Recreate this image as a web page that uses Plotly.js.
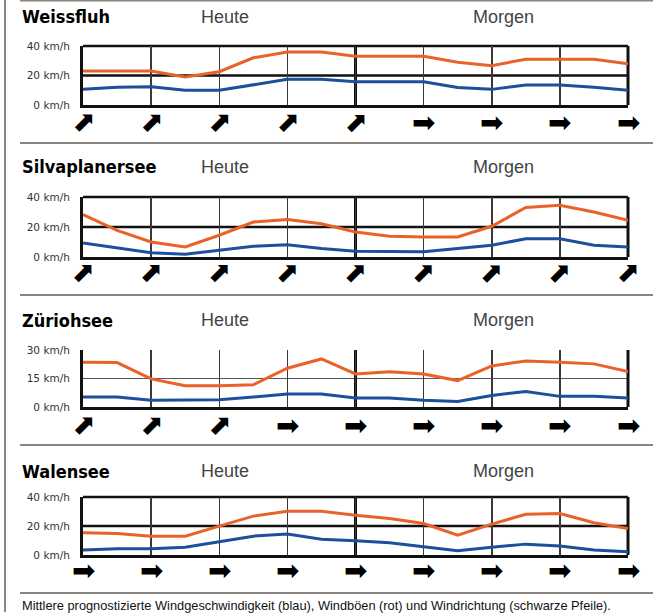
<!DOCTYPE html>
<html><head><meta charset="utf-8">
<script src="https://cdn.plot.ly/plotly-3.0.1.min.js"></script>
<style>html,body{margin:0;padding:0;background:#fff}</style>
</head><body>
<div id="chart" style="width:670px;height:615px"></div>
<script>
// ---- data ----
const stations = ['Weissfluh', 'Silvaplanersee', 'Züriohsee', 'Walensee'];
const dayLabels = ['Heute', 'Morgen'];
const steps = [0,0.5,1,1.5,2,2.5,3,3.5,4,4.5,5,5.5,6,6.5,7,7.5,8];
const arrowSteps = [0,1,2,3,4,5,6,7,8];

const weissfluhGust  = [23,23,23,19,22.6,32,36,36,33,33,33,29,26.7,31,31,31,28];
const weissfluhWind  = [10.6,12,12.4,10,10,13.5,17.4,17.4,15.8,15.8,15.8,11.8,10.6,13.5,13.5,12,10];
const silvaGust      = [28.3,17.8,10,6.7,14.5,23.3,25,22.2,16.7,13.8,13.3,13.3,20.5,33,34.5,30,24.5];
const silvaWind      = [9.3,6.2,2.9,1.8,4.5,7.1,8.2,5.6,3.8,3.5,3.5,5.6,7.8,12.2,12.2,7.8,6.7];
const zuerichGust    = [23.6,23.4,14.8,11.2,11.2,11.7,20.4,25.3,17.4,18.6,17.4,13.9,21.6,24.2,23.5,22.7,18.6];
const zuerichWind    = [5.2,5.2,3.5,3.5,3.8,5.2,6.8,6.8,4.7,4.7,3.5,2.9,6.1,8.2,5.6,5.6,4.7];
const walenGust      = [15.3,14.9,13,13,19.9,26.8,30.2,30.2,27.4,25.2,21.7,13.7,21.3,28.1,28.6,22.2,18.3];
const walenWind      = [3.4,4.3,4.3,5.3,9.1,13,14.4,10.8,9.8,8.4,5.7,3,5.3,7.5,6.2,3.4,2.3];

// wind direction in degrees (0 = east, 45 = north-east)
const weissfluhDir = [45,45,45,45,45,0,0,0,0];
const silvaDir     = [45,45,45,45,45,45,45,45,45];
const zuerichDir   = [45,45,45,0,0,0,0,0,0];
const walenDir     = [0,0,0,0,0,0,0,0,0];

const tickVals40 = [0,20,40];
const tickText40 = ['0 km/h','20 km/h','40 km/h'];
const tickVals30 = [0,15,30];
const tickText30 = ['0 km/h','15 km/h','30 km/h'];

const footnote = 'Mittlere prognostizierte Windgeschwindigkeit (blau), Windböen (rot) und Windrichtung (schwarze Pfeile).';

// ---- layout helpers ----
const W = 670, H = 615;
const px = v => v / W;
const py = v => 1 - v / H;

const panels = [
  {name: stations[0], gust: weissfluhGust, wind: weissfluhWind, dir: weissfluhDir, max: 40, tv: tickVals40, tt: tickText40, top: 46, bottom: 105, titleY: 17, arrowY: 122, sepY: 143, boxed: true},
  {name: stations[1], gust: silvaGust, wind: silvaWind, dir: silvaDir, max: 40, tv: tickVals40, tt: tickText40, top: 197, bottom: 257, titleY: 167, arrowY: 273, sepY: 295, boxed: true},
  {name: stations[2], gust: zuerichGust, wind: zuerichWind, dir: zuerichDir, max: 30, tv: tickVals30, tt: tickText30, top: 350, bottom: 407, titleY: 320, arrowY: 425, sepY: 445, boxed: false},
  {name: stations[3], gust: walenGust, wind: walenWind, dir: walenDir, max: 40, tv: tickVals40, tt: tickText40, top: 497, bottom: 555, titleY: 471, arrowY: 570, sepY: 593, boxed: true}
];

const RED = '#e8622a', BLUE = '#1d4f9b';
const traces = [], shapes = [], annotations = [];
const layout = {
  width: W, height: H, margin: {l:0, r:0, t:0, b:0},
  paper_bgcolor: '#fff', plot_bgcolor: '#fff', showlegend: false,
  font: {family: 'Liberation Sans, Arial, sans-serif', color: '#222'}
};

panels.forEach((p, k) => {
  const n = k + 1;
  const xa = 'x' + (n === 1 ? '' : n), ya = 'y' + (n === 1 ? '' : n);
  const xkey = 'xaxis' + (n === 1 ? '' : n), ykey = 'yaxis' + (n === 1 ? '' : n);
  layout[xkey] = {
    domain: [px(83), px(628)], range: [0, 8], anchor: ya,
    showgrid: true, dtick: 1, gridcolor: '#3d3833', gridwidth: 1.5,
    zeroline: false, showline: true, linecolor: '#111', linewidth: 3,
    showticklabels: false, ticks: '', fixedrange: true
  };
  layout[ykey] = {
    domain: [py(p.bottom), py(p.top)], range: [0, p.max], anchor: xa,
    showgrid: false, zeroline: false, showline: true, linecolor: '#111', linewidth: 3,
    tickmode: 'array', tickvals: p.tv, ticktext: p.tt, ticks: '',
    ticklabelstandoff: 8,
    tickfont: {family: 'DejaVu Sans, sans-serif', size: 10.5, color: '#333'},
    fixedrange: true
  };
  traces.push({x: steps, y: p.gust, xaxis: xa, yaxis: ya, mode: 'lines', line: {color: RED, width: 3}, hoverinfo: 'skip'});
  traces.push({x: steps, y: p.wind, xaxis: xa, yaxis: ya, mode: 'lines', line: {color: BLUE, width: 3}, hoverinfo: 'skip'});

  shapes.push({type: 'line', layer: 'below', xref: xa + ' domain', yref: ya, x0: 0, x1: 1, y0: p.tv[1], y1: p.tv[1],
    line: p.boxed ? {color: '#111', width: 2.5} : {color: '#555', width: 1}});
  shapes.push({type: 'line', layer: 'below', xref: xa, yref: ya + ' domain', x0: 4, x1: 4, y0: 0, y1: 1, line: {color: '#111', width: 3}});
  shapes.push({type: 'line', layer: 'below', xref: xa + ' domain', yref: ya + ' domain', x0: 1, x1: 1, y0: 0, y1: 1, line: {color: '#111', width: 3}});
  if (p.boxed) {
    shapes.push({type: 'line', layer: 'below', xref: xa + ' domain', yref: ya + ' domain', x0: 0, x1: 1, y0: 1, y1: 1, line: {color: '#111', width: 2.5}});
  }
  shapes.push({type: 'line', xref: 'paper', yref: 'paper', x0: px(20), x1: px(653), y0: py(p.sepY), y1: py(p.sepY), line: {color: '#8a8580', width: 2}});

  annotations.push({xref: 'paper', yref: 'paper', x: px(20), y: py(p.titleY), xanchor: 'left', yanchor: 'middle', showarrow: false,
    text: '<b>' + p.name + '</b>', font: {family: 'DejaVu Sans Condensed, DejaVu Sans, sans-serif', size: 18, color: '#000'}});
  annotations.push({xref: 'paper', yref: 'paper', x: px(225), y: py(p.titleY), xanchor: 'center', yanchor: 'middle', showarrow: false,
    text: dayLabels[0], font: {family: 'Liberation Sans, Arial, sans-serif', size: 18, color: '#444'}});
  annotations.push({xref: 'paper', yref: 'paper', x: px(503), y: py(p.titleY), xanchor: 'center', yanchor: 'middle', showarrow: false,
    text: dayLabels[1], font: {family: 'Liberation Sans, Arial, sans-serif', size: 18, color: '#444'}});

  arrowSteps.forEach((s, i) => {
    annotations.push({xref: xa, yref: 'paper', x: s, y: py(p.arrowY), xanchor: 'center', yanchor: 'middle', showarrow: false,
      text: '➡', textangle: -p.dir[i], font: {family: 'DejaVu Sans, sans-serif', size: 28, color: '#000'}});
  });
});

shapes.push({type: 'line', xref: 'paper', yref: 'paper', x0: px(20), x1: px(653), y0: py(0.5), y1: py(0.5), line: {color: '#8a8580', width: 2}});
shapes.push({type: 'line', xref: 'paper', yref: 'paper', x0: px(5), x1: px(5), y0: py(0), y1: py(612), line: {color: '#8a8580', width: 2}});

annotations.push({xref: 'paper', yref: 'paper', x: px(20), y: py(605), xanchor: 'left', yanchor: 'middle', showarrow: false,
  text: footnote, font: {family: 'Liberation Sans, Arial, sans-serif', size: 12.8, color: '#111'}});

layout.shapes = shapes;
layout.annotations = annotations;

Plotly.newPlot('chart', traces, layout, {displayModeBar: false, staticPlot: true});
</script>
</body></html>
